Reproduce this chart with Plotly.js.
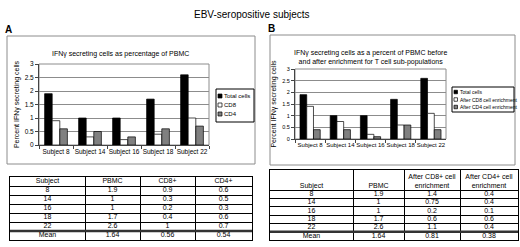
<!DOCTYPE html>
<html><head><meta charset="utf-8">
<script src="https://cdn.plot.ly/plotly-3.0.1.min.js"></script>
<style>html,body{margin:0;padding:0;background:#fff}#chart{width:520px;height:247px}</style>
</head><body><div id="chart"></div>
<script>
// ---- data ----
const subjects = ['Subject 8','Subject 14','Subject 16','Subject 18','Subject 22'];
const subjectIds = ['8','14','16','18','22'];
const totalCells = [1.9, 1, 1, 1.7, 2.6];
const cd8A = [0.9, 0.3, 0.2, 0.4, 1];
const cd4A = [0.6, 0.5, 0.3, 0.6, 0.7];
const cd8B = [1.4, 0.75, 0.2, 0.6, 1.1];
const cd4B = [0.4, 0.4, 0.1, 0.6, 0.4];
const meanLabel = 'Mean';
const meanA = [1.64, 0.56, 0.54];
const meanB = [1.64, 0.81, 0.38];
const seriesA = ['Total cells','CD8','CD4'];
const seriesB = ['Total cells','After CD8 cell enrichment','After CD4 cell enrichment'];
const headerA = ['Subject','PBMC','CD8+','CD4+'];
const headerB = ['Subject','PBMC','After CD8+ cell<br>enrichment','After CD4+ cell<br>enrichment'];
const yTicks = [0,0.5,1,1.5,2,2.5,3];
const mainTitle = 'EBV-seropositive subjects';
const titleA = 'IFN\u03b3 secreting cells as percentage of PBMC';
const titleB = 'IFN\u03b3 secreting cells as a percent of PBMC before<br>and after enrichment for T cell sub-populations';
const yTitle = 'Percent IFN\u03b3 secreting cells';

// ---- helpers / styles ----
const W = 520, H = 247;
const px = p => p / W;
const py = p => 1 - p / H;
const FONT = 'Liberation Sans, Arial, sans-serif';
const colors = ['#000000', '#ffffff', '#808080'];
const grid = '#8c8c8c';

function barTraces(names, vals, xa, ya) {
  return names.map((n, i) => ({
    type: 'bar', x: subjects, y: vals[i], name: n, xaxis: xa, yaxis: ya,
    marker: {color: colors[i], line: {color: '#000', width: 0.7}},
    showlegend: false, hoverinfo: 'skip'
  }));
}
const str = a => a.map(v => String(v));
const colsA = [subjectIds.concat([meanLabel]), str(totalCells.concat([meanA[0]])),
  str(cd8A.concat([meanA[1]])), str(cd4A.concat([meanA[2]]))];
const colsB = [subjectIds.concat([meanLabel]), str(totalCells.concat([meanB[0]])),
  str(cd8B.concat([meanB[1]])), str(cd4B.concat([meanB[2]]))];

// table drawn on its own axis pair: columns/rows laid out through the axes' scales
const tableAxes = {};
function tableTraces(header, cols, widths, headerH, rowH, xa, ya, headerBottom) {
  const bounds = [0];
  widths.forEach(w => bounds.push(bounds[bounds.length - 1] + w));
  const centers = widths.map((w, j) => bounds[j] + w / 2);
  const nRows = cols[0].length;
  const rowBounds = [0, headerH];
  for (let i = 1; i <= nRows; i++) rowBounds.push(headerH + rowH * i);
  tableAxes[xa] = {range: [0, bounds[bounds.length - 1]], tickvals: bounds};
  tableAxes[ya] = {range: [rowBounds[rowBounds.length - 1], 0], tickvals: rowBounds,
    meanLine: headerH + rowH * (nRows - 1)};
  const bx = [], by = [], bt = [];
  cols.forEach((col, j) => col.forEach((v, i) => {
    bx.push(centers[j]); by.push(headerH + rowH * (i + 0.5)); bt.push(v);
  }));
  const font = {family: FONT, size: 7, color: '#000'};
  return [
    {type: 'scatter', mode: 'text', x: centers, y: header.map(() => headerBottom ? headerH - 0.5 : headerH / 2),
     text: header, textposition: headerBottom ? 'top center' : 'middle center', textfont: font,
     xaxis: xa, yaxis: ya, showlegend: false, hoverinfo: 'skip', cliponaxis: false},
    {type: 'scatter', mode: 'text', x: bx, y: by, text: bt, textposition: 'middle center', textfont: font,
     xaxis: xa, yaxis: ya, showlegend: false, hoverinfo: 'skip', cliponaxis: false}
  ];
}

const data = [].concat(
  barTraces(seriesA, [totalCells, cd8A, cd4A], 'x', 'y'),
  barTraces(seriesB, [totalCells, cd8B, cd4B], 'x2', 'y2'),
  tableTraces(headerA, colsA, [75, 55, 55, 57], 9, 9, 'x3', 'y3', false),
  tableTraces(headerB, colsB, [83, 51, 56, 58], 20, 50 / 6, 'x4', 'y4', true)
);

function xAxis(dom, fs) {
  return {domain: dom, type: 'category', ticks: 'outside', tickson: 'boundaries', ticklen: 3,
    tickcolor: '#444', showline: true, linecolor: '#444', linewidth: 1, showgrid: false, tickangle: 0,
    tickfont: {family: FONT, size: fs, color: '#000'}, fixedrange: true};
}
function yAxis(dom, fs, anchor, standoff) {
  return {domain: dom, range: [0, 3], tickvals: yTicks, ticks: 'outside', ticklen: 3,
    tickcolor: '#444', showline: true, linecolor: '#444', linewidth: 1, anchor: anchor,
    gridcolor: grid, gridwidth: 1, zeroline: false,
    tickfont: {family: FONT, size: fs, color: '#000'},
    title: {text: yTitle, font: {family: FONT, size: 7, color: '#000'}, standoff: standoff},
    fixedrange: true};
}
function tAxis(name, dom, anchor) {
  const t = tableAxes[name];
  return {domain: dom, range: t.range, tickvals: t.tickvals, anchor: anchor, showgrid: true,
    gridcolor: '#000', gridwidth: 1, showticklabels: false, ticks: '', zeroline: false,
    showline: true, mirror: true, linecolor: '#000', linewidth: 1, fixedrange: true};
}

const shapes = [
  {type: 'rect', xref: 'paper', yref: 'paper', x0: px(7), x1: px(255), y0: py(164), y1: py(36),
   line: {color: '#8c8c8c', width: 1}, layer: 'below'},
  {type: 'rect', xref: 'paper', yref: 'paper', x0: px(270), x1: px(515), y0: py(165), y1: py(35),
   line: {color: '#8c8c8c', width: 1}, layer: 'below'},
  {type: 'rect', xref: 'x domain', yref: 'y domain', x0: 0, x1: 1, y0: 0, y1: 1,
   line: {color: grid, width: 1}, layer: 'below'},
  {type: 'rect', xref: 'x2 domain', yref: 'y2 domain', x0: 0, x1: 1, y0: 0, y1: 1,
   line: {color: grid, width: 1}, layer: 'below'},
  {type: 'line', xref: 'x3 domain', yref: 'y3', x0: 0, x1: 1, y0: tableAxes.y3.meanLine, y1: tableAxes.y3.meanLine,
   line: {color: '#333', width: 2.5}},
  {type: 'line', xref: 'x4 domain', yref: 'y4', x0: 0, x1: 1, y0: tableAxes.y4.meanLine, y1: tableAxes.y4.meanLine,
   line: {color: '#333', width: 2.5}}
];
const annotations = [
  {text: mainTitle, xref: 'paper', yref: 'paper', x: px(252), y: py(7), xanchor: 'center', showarrow: false,
   font: {family: FONT, size: 10, color: '#000'}},
  {text: '<b>A</b>', xref: 'paper', yref: 'paper', x: px(3), y: py(22), xanchor: 'left', showarrow: false,
   font: {family: FONT, size: 10, color: '#000'}},
  {text: '<b>B</b>', xref: 'paper', yref: 'paper', x: px(266), y: py(21), xanchor: 'left', showarrow: false,
   font: {family: FONT, size: 10, color: '#000'}},
  {text: titleA, xref: 'paper', yref: 'paper', x: px(120), y: py(48), xanchor: 'center', showarrow: false,
   font: {family: FONT, size: 7, color: '#000'}},
  {text: titleB, xref: 'paper', yref: 'paper', x: px(370), y: py(47), xanchor: 'center', showarrow: false,
   font: {family: FONT, size: 7, color: '#000'}}
];

// compact legends (swatch + series name)
function legend(names, x0, x1, y0, y1, rowYs, sw, fs) {
  shapes.push({type: 'rect', xref: 'paper', yref: 'paper', x0: px(x0), x1: px(x1), y0: py(y1), y1: py(y0),
    line: {color: '#000', width: 1}, fillcolor: '#fff'});
  names.forEach((n, i) => {
    const yc = rowYs[i];
    shapes.push({type: 'rect', xref: 'paper', yref: 'paper', x0: px(x0 + 2), x1: px(x0 + 2 + sw),
      y0: py(yc + sw / 2), y1: py(yc - sw / 2), line: {color: '#000', width: 0.7}, fillcolor: colors[i]});
    annotations.push({text: n, xref: 'paper', yref: 'paper', x: px(x0 + 3 + sw), y: py(yc),
      xanchor: 'left', yanchor: 'middle', showarrow: false, borderpad: 0,
      font: {family: FONT, size: fs, color: '#000'}});
  });
}
legend(seriesA, 216, 254, 89, 122, [96, 105, 114], 4, 6);
legend(seriesB, 452, 514, 87, 112, [92, 99.5, 107], 3.5, 5);

const layout = {
  width: W, height: H, margin: {l: 0, r: 0, t: 0, b: 0},
  paper_bgcolor: '#fff', plot_bgcolor: '#fff', showlegend: false,
  barmode: 'group', bargap: 0.33, bargroupgap: 0,
  font: {family: FONT, color: '#000'},
  xaxis: xAxis([px(39), px(209)], 6.5),
  yaxis: yAxis([py(145), py(64)], 6.5, 'x', 4),
  xaxis2: Object.assign(xAxis([px(295), px(446)], 6), {anchor: 'y2'}),
  yaxis2: yAxis([py(139), py(69)], 5.5, 'x2', 4),
  xaxis3: tAxis('x3', [px(10), px(252)], 'y3'),
  yaxis3: tAxis('y3', [py(240), py(177)], 'x3'),
  xaxis4: tAxis('x4', [px(270), px(518)], 'y4'),
  yaxis4: tAxis('y4', [py(240), py(170)], 'x4'),
  shapes: shapes, annotations: annotations
};
Plotly.newPlot('chart', data, layout, {staticPlot: true, displayModeBar: false});
</script>
</body></html>
